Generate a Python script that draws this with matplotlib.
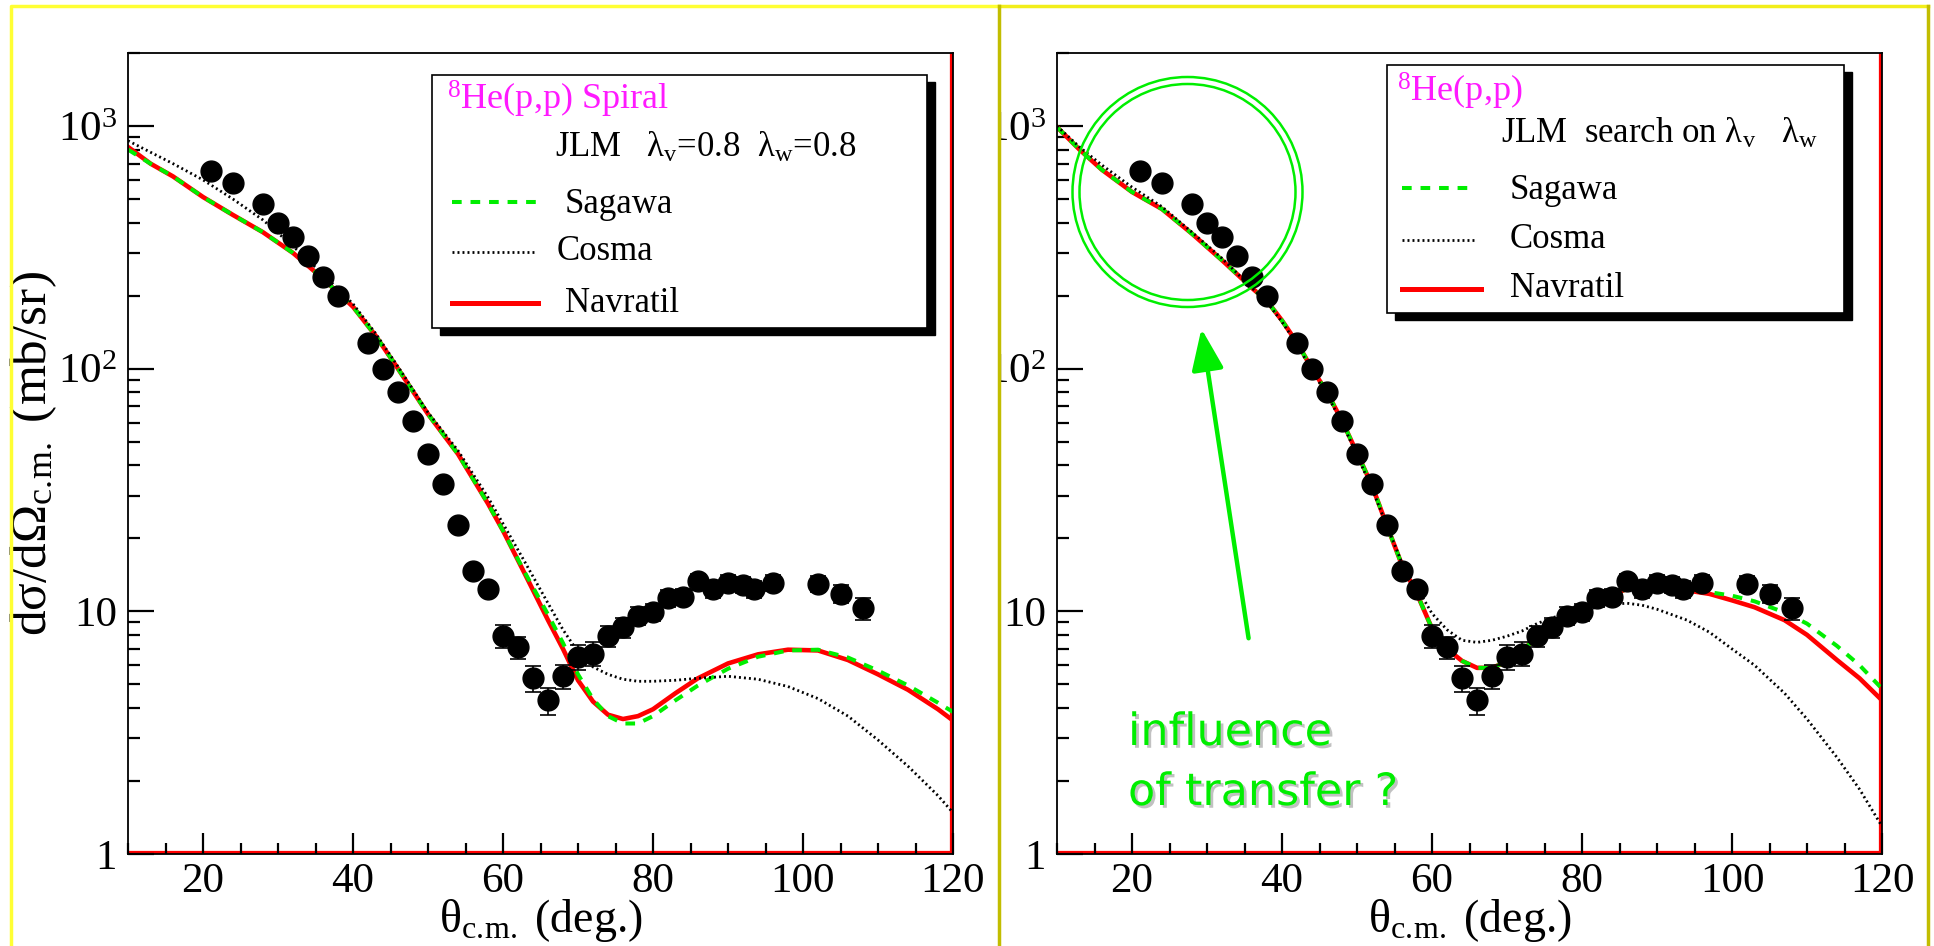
import matplotlib
matplotlib.use("Agg")
import matplotlib.pyplot as plt
import matplotlib.patheffects as pe
from matplotlib.patches import Rectangle, Ellipse, FancyArrowPatch
from matplotlib.lines import Line2D
from matplotlib.ticker import MultipleLocator, LogLocator, FuncFormatter, NullFormatter

plt.rcParams["font.family"] = ["Liberation Serif", "DejaVu Serif"]
plt.rcParams["mathtext.fontset"] = "custom"
plt.rcParams["mathtext.rm"] = "Liberation Serif"
plt.rcParams["mathtext.it"] = "Liberation Serif:italic"

# measured 8He(p,p) cross sections (same in both panels)
theta_exp = [21, 24, 28, 30, 32, 34, 36, 38, 42, 44, 46, 48, 50, 52, 54, 56, 58,
             60, 62, 64, 66, 68, 70, 72, 74, 76, 78, 80, 82, 84, 86, 88, 90, 92,
             93.5, 96, 102, 105, 108]
xs_exp = [650, 580, 475, 400, 350, 290, 238, 200, 128, 100, 80, 61, 44.5, 33.5,
          22.7, 14.6, 12.4, 7.9, 7.1, 5.3, 4.3, 5.4, 6.5, 6.7, 7.9, 8.6, 9.6, 9.9,
          11.3, 11.5, 13.3, 12.4, 13.1, 12.9, 12.4, 13.1, 13.0, 11.8, 10.3]
err_exp = [20, 18, 15, 12, 11, 9, 7, 6, 4, 3, 2.5, 2, 1.5, 1.2, 0.9, 0.7, 0.6,
           0.85, 0.75, 0.65, 0.55, 0.63, 0.75, 0.75, 0.8, 0.8, 0.8, 0.8, 0.9, 0.9,
           1.0, 1.0, 1.0, 1.0, 1.0, 1.0, 1.0, 1.0, 1.1]

# left panel: JLM lambda_v = lambda_w = 0.8
theta_left = [10, 13, 16, 20, 24, 28, 32, 36, 40, 43, 46, 50, 54, 58, 60, 63, 66,
              68, 70, 72, 74, 76, 78, 80, 83, 86, 90, 94, 98, 102, 106, 110, 114,
              118, 120]
navratil_left = [820, 700, 620, 510, 430, 365, 300, 235, 180, 137, 100, 65, 44.5,
                 27.8, 21.5, 14.1, 9.2, 7.0, 5.2, 4.25, 3.75, 3.6, 3.7, 3.95, 4.6,
                 5.3, 6.1, 6.65, 6.95, 6.9, 6.3, 5.5, 4.75, 3.95, 3.55]
sagawa_left = [800, 700, 620, 510, 430, 365, 300, 235, 180, 137, 100, 65, 44.5,
               27.8, 21.5, 14.3, 9.7, 7.4, 5.5, 4.35, 3.7, 3.45, 3.45, 3.7, 4.3,
               4.95, 5.8, 6.5, 6.9, 6.95, 6.45, 5.7, 4.95, 4.2, 3.85]
cosma_left = [870, 780, 700, 600, 500, 410, 320, 245, 185, 140, 102, 66, 46,
              29.5, 23, 15.8, 10.8, 8.4, 6.8, 5.9, 5.5, 5.25, 5.15, 5.15, 5.2,
              5.3, 5.4, 5.25, 4.9, 4.37, 3.7, 2.95, 2.3, 1.74, 1.48]

# right panel: JLM with search on lambda_v, lambda_w
theta_right = [10, 13, 16, 20, 24, 28, 32, 36, 38, 40, 42, 44, 46, 48, 50, 52, 54,
               56, 58, 60, 62, 64, 66, 68, 70, 72, 74, 76, 78, 80, 82, 84, 86, 88,
               90, 94, 97, 100, 103, 107, 110, 114, 117, 120]
navratil_right = [990, 800, 660, 535, 455, 360, 280, 215, 190, 158, 128, 100, 80,
                  61, 45, 33, 22.5, 15.5, 11.8, 8.5, 7.0, 6.25, 5.85, 5.85, 6.2,
                  6.9, 7.8, 8.8, 9.6, 10.3, 10.9, 11.6, 12.4, 12.6, 12.6, 12.2,
                  11.8, 11.1, 10.4, 9.2, 8.0, 6.3, 5.3, 4.3]
sagawa_right = [990, 800, 660, 535, 455, 360, 280, 215, 190, 158, 128, 100, 80,
                61, 45, 33, 22.5, 15.5, 11.8, 8.5, 7.0, 6.25, 5.85, 5.85, 6.2,
                6.9, 7.8, 8.8, 9.6, 10.3, 10.9, 11.6, 12.4, 12.6, 12.6, 12.3,
                12.0, 11.6, 11.0, 9.9, 8.9, 7.2, 6.0, 4.8]
cosma_right = [1000, 820, 690, 560, 465, 365, 285, 215, 188, 156, 126, 98, 78,
               60, 44, 32, 22.5, 15.8, 12.5, 9.8, 8.4, 7.6, 7.45, 7.6, 7.9, 8.3,
               8.9, 9.4, 9.8, 10.1, 10.4, 10.7, 10.8, 10.6, 10.2, 9.2, 8.2, 7.0,
               6.0, 4.6, 3.6, 2.5, 1.85, 1.3]

legend_names = ["Sagawa", "Cosma", "Navratil"]

W, H = 1934, 946
fig = plt.figure(figsize=(W / 100, H / 100), dpi=100)
fig.patch.set_facecolor("white")

dotted = (0, (0.7, 1.1))
dashed = (0, (2.4, 2.2))
sub_cm = r"$_{\rm c.\!m.}$"


def fx(x):
    return x / W


def fy(y):
    return 1 - y / H


def ytick_fmt(v, pos):
    labels = {1: "1", 10: "10", 100: "10$^{2}$", 1000: "10$^{3}$"}
    return labels.get(int(round(v)), "")


def panel(x0, theta_c, sag, cos, nav):
    ax = fig.add_axes([fx(x0), fy(854), 825 / W, 801 / H])
    ax.set_yscale("log")
    ax.set_xlim(10, 120)
    ax.set_ylim(1, 2000)
    ax.set_axisbelow(False)

    ax.plot(theta_c, nav, color="#ff0000", lw=3.3, zorder=3)
    ax.plot(theta_c, sag, color="#00ee00", lw=2.9, ls=dashed, zorder=4)
    ax.plot(theta_c, cos, color="black", lw=2.0, ls=dotted, zorder=5)
    ax.errorbar(theta_exp, xs_exp, yerr=err_exp, fmt="o", color="black", ms=15,
                elinewidth=1.2, capsize=6, capthick=1.2, zorder=6)

    # ROOT-like red frame inside bottom / right edges
    ax.axhline(1, color="#ff0000", lw=4.5, zorder=2)
    ax.axvline(120, color="#ff0000", lw=4.5, zorder=2)

    for sp in ax.spines.values():
        sp.set_linewidth(1.3)
        sp.set_zorder(7)

    ax.xaxis.set_major_locator(MultipleLocator(20))
    ax.xaxis.set_minor_locator(MultipleLocator(5))
    ax.yaxis.set_major_locator(LogLocator(base=10, numticks=10))
    ax.yaxis.set_minor_locator(LogLocator(base=10, subs=range(2, 10), numticks=20))
    ax.yaxis.set_major_formatter(FuncFormatter(ytick_fmt))
    ax.yaxis.set_minor_formatter(NullFormatter())
    ax.tick_params(axis="both", which="both", direction="in", top=False, right=False,
                   bottom=True, left=True, width=1.6, color="black", labelsize=31)
    ax.tick_params(axis="x", which="major", length=15, pad=6)
    ax.tick_params(axis="x", which="minor", length=8)
    ax.tick_params(axis="y", which="major", length=19, pad=8)
    ax.tick_params(axis="y", which="minor", length=8.5)
    return ax


ax1 = panel(128, theta_left, sagawa_left, cosma_left, navratil_left)
ax2 = panel(1057, theta_right, sagawa_right, cosma_right, navratil_right)

for ax in (ax1, ax2):
    ax.set_xlabel("θ" + sub_cm + " (deg.)", fontsize=33)
    ax.xaxis.label.set_va("bottom")
    ax.xaxis.set_label_coords(0.5, (854 - 944) / 801)
ax1.set_ylabel("dσ/dΩ" + sub_cm + " (mb/sr)", fontsize=37)
ax1.yaxis.label.set_va("center")
ax1.yaxis.set_label_coords((34 - 128) / 825, 0.5)


def legend_box(x1, y1, x2, y2, title, sub, rows):
    fig.add_artist(Rectangle((fx(x1 + 8), fy(y2 + 7)), (x2 - x1) / W, (y2 - y1) / H,
                             transform=fig.transFigure, facecolor="black",
                             edgecolor="black", zorder=10))
    fig.add_artist(Rectangle((fx(x1), fy(y2)), (x2 - x1) / W, (y2 - y1) / H,
                             transform=fig.transFigure, facecolor="white",
                             edgecolor="black", lw=1.2, zorder=11))
    fig.text(fx(title[0]), fy(title[1]), title[2], color="#ff1aff", fontsize=26,
             va="baseline", zorder=12)
    fig.text(fx(sub[0]), fy(sub[1]), sub[2], color="black", fontsize=25,
             va="baseline", zorder=12)
    styles = [dict(color="#00ee00", lw=2.9, ls=dashed),
              dict(color="black", lw=2.0, ls=dotted),
              dict(color="#ff0000", lw=3.6)]
    for name, st, (lx1, lx2, ly, tx, ty) in zip(legend_names, styles, rows):
        fig.add_artist(Line2D([fx(lx1), fx(lx2)], [fy(ly), fy(ly)],
                              transform=fig.transFigure, zorder=12, **st))
        fig.text(fx(tx), fy(ty), name, fontsize=25, va="baseline", zorder=12)


legend_box(432, 75, 927, 328,
           (447, 110, "$^{8}$He(p,p) Spiral"),
           (555, 157, "JLM   λ$_{\\rm v}$=0.8  λ$_{\\rm w}$=0.8"),
           [(452, 538, 202, 565, 213), (452, 535, 252, 557, 260),
            (452, 538, 303, 565, 312)])
legend_box(1387, 65, 1844, 313,
           (1397, 102, "$^{8}$He(p,p)"),
           (1501, 143, "JLM  search on λ$_{\\rm v}$   λ$_{\\rm w}$"),
           [(1402, 1472, 188, 1510, 199), (1402, 1476, 240, 1510, 248),
            (1402, 1481, 289, 1510, 297)])

# hide the part of the right panel tick labels under the left frame
fig.add_artist(Rectangle((fx(983), fy(700)), 16 / W, 640 / H, transform=fig.transFigure,
                         facecolor="white", edgecolor="none", zorder=13))

# annotation: circle, arrow and comment
green = "#00ee00"
for r in (115, 108):
    fig.add_artist(Ellipse((fx(1187.5), fy(192)), 2 * r / W, 2 * r / H,
                           transform=fig.transFigure, fill=False,
                           edgecolor=green, lw=1.8, zorder=14))
fig.add_artist(FancyArrowPatch((fx(1249), fy(641)), (fx(1201), fy(326)),
                               transform=fig.transFigure, color=green, lw=3.2,
                               arrowstyle="-|>,head_length=0.9,head_width=0.35",
                               mutation_scale=28, zorder=14))
shadow = [pe.withSimplePatchShadow(offset=(2, -2), shadow_rgbFace="#999999", alpha=0.6)]
fig.text(fx(1128), fy(745), "influence", color=green, fontsize=32,
         family="DejaVu Sans", va="baseline", zorder=14, path_effects=shadow)
fig.text(fx(1128), fy(805), "of transfer ?", color=green, fontsize=32,
         family="DejaVu Sans", va="baseline", zorder=14, path_effects=shadow)

# slide frames
fig.add_artist(Line2D([fx(11), fx(11), fx(999)], [0, fy(6), fy(6)],
                      transform=fig.transFigure, color="#ffff33", lw=2.5, zorder=15))
fig.add_artist(Line2D([fx(999), fx(1928)], [fy(6), fy(6)],
                      transform=fig.transFigure, color="#f2ee1a", lw=2.5, zorder=15))
for xv in (999, 1928):
    fig.add_artist(Line2D([fx(xv), fx(xv)], [0, fy(6)], transform=fig.transFigure,
                          color="#c2bd00", lw=2.5, zorder=15))

fig.savefig("out.png", dpi=100, facecolor="white")
